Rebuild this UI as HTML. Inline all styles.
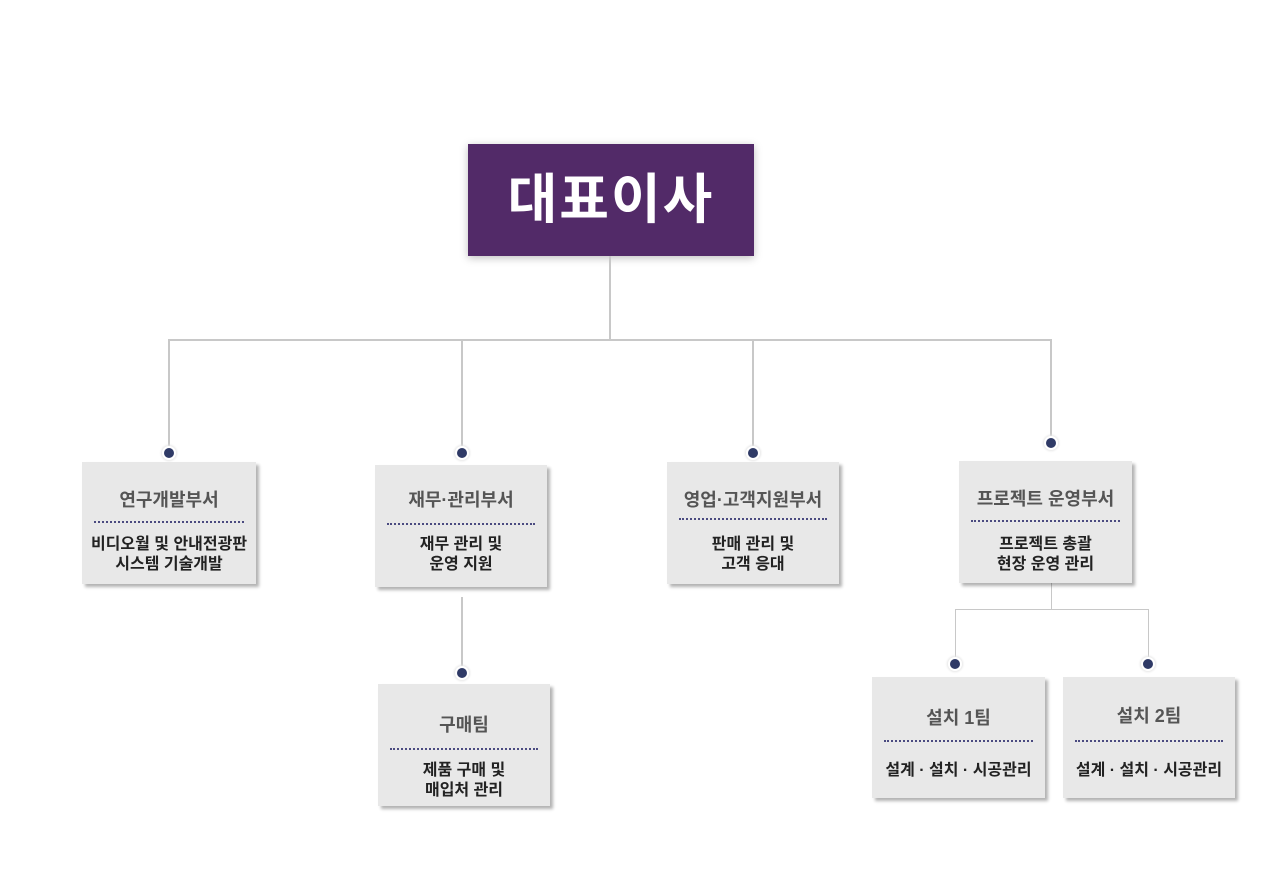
<!DOCTYPE html>
<html><head><meta charset="utf-8"><style>
body{margin:0;width:1280px;height:891px;background:#fff;position:relative;overflow:hidden;font-family:"Liberation Sans","Noto Sans CJK KR",sans-serif}
.l{position:absolute;background:#c8c8c8}
.d{position:absolute;width:10px;height:10px;border-radius:50%;background:#2f3a66;box-shadow:0 0 0 2px #fff,0 0 2px 3px #e6e6e6}
.b{position:absolute;background:#e8e8e8;box-shadow:3px 3px 3px rgba(0,0,0,.3);text-align:center}
.t{position:absolute;left:0;right:0;font-size:18px;font-weight:bold;color:#555}
.s{position:absolute;left:12px;right:12px;border-top:2px dotted #4a4a80}
.x{position:absolute;left:0;right:0;font-size:16px;font-weight:bold;color:#222;line-height:20px}
</style></head><body>
<div style="position:absolute;left:468px;top:144px;width:286px;height:112px;background:#522a68;box-shadow:0 2px 8px rgba(0,0,0,.25);color:#fff;font-size:54px;font-weight:bold;text-align:center;line-height:112px;letter-spacing:2px">대표이사</div>
<div class="l" style="left:609px;top:256px;width:2px;height:85px"></div>
<div class="l" style="left:168px;top:339px;width:884px;height:2px"></div>
<div class="l" style="left:168px;top:339px;width:2px;height:114px"></div>
<div class="l" style="left:461px;top:339px;width:2px;height:114px"></div>
<div class="l" style="left:752px;top:339px;width:2px;height:114px"></div>
<div class="l" style="left:1050px;top:339px;width:2px;height:104px"></div>
<div class="d" style="left:164px;top:448px"></div>
<div class="d" style="left:457px;top:448px"></div>
<div class="d" style="left:748px;top:448px"></div>
<div class="d" style="left:1046px;top:438px"></div>
<div class="l" style="left:461px;top:597px;width:2px;height:72px"></div>
<div class="d" style="left:457px;top:668px"></div>
<div class="l" style="left:1051px;top:583px;width:1px;height:27px"></div>
<div class="l" style="left:955px;top:609px;width:194px;height:1px"></div>
<div class="l" style="left:955px;top:609px;width:1px;height:52px"></div>
<div class="l" style="left:1148px;top:609px;width:1px;height:52px"></div>
<div class="d" style="left:950px;top:659px"></div>
<div class="d" style="left:1143px;top:659px"></div>

<div class="b" style="left:82px;top:462px;width:174px;height:122px"><div class="t" style="top:24px">연구개발부서</div><div class="s" style="top:59px"></div><div class="x" style="top:73px">비디오월 및 안내전광판<br>시스템 기술개발</div></div>
<div class="b" style="left:375px;top:465px;width:172px;height:122px"><div class="t" style="top:21px">재무·관리부서</div><div class="s" style="top:58px"></div><div class="x" style="top:70px">재무 관리 및<br>운영 지원</div></div>
<div class="b" style="left:667px;top:462px;width:172px;height:122px"><div class="t" style="top:24px">영업·고객지원부서</div><div class="s" style="top:56px"></div><div class="x" style="top:73px">판매 관리 및<br>고객 응대</div></div>
<div class="b" style="left:959px;top:461px;width:173px;height:122px"><div class="t" style="top:24px">프로젝트 운영부서</div><div class="s" style="top:59px"></div><div class="x" style="top:74px">프로젝트 총괄<br>현장 운영 관리</div></div>
<div class="b" style="left:378px;top:684px;width:172px;height:122px"><div class="t" style="top:27px">구매팀</div><div class="s" style="top:64px"></div><div class="x" style="top:77px">제품 구매 및<br>매입처 관리</div></div>
<div class="b" style="left:872px;top:677px;width:173px;height:121px"><div class="t" style="top:27px">설치 1팀</div><div class="s" style="top:63px"></div><div class="x" style="top:84px">설계 · 설치 · 시공관리</div></div>
<div class="b" style="left:1063px;top:677px;width:172px;height:121px"><div class="t" style="top:25px">설치 2팀</div><div class="s" style="top:63px"></div><div class="x" style="top:84px">설계 · 설치 · 시공관리</div></div>
</body></html>
